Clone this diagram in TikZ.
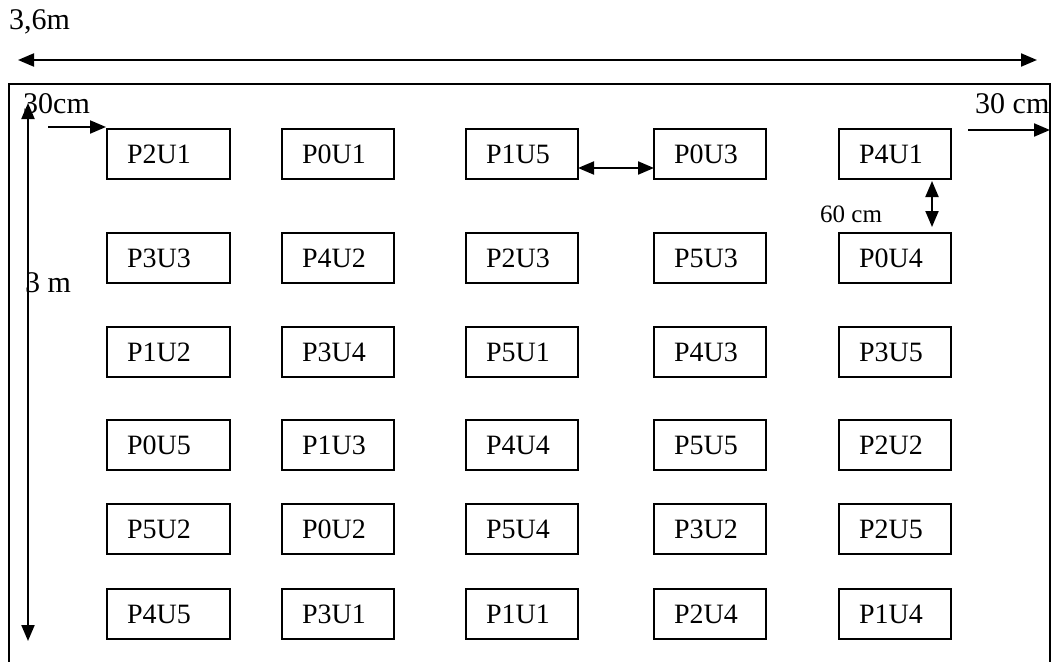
\documentclass[tikz,border=0pt]{standalone}
\usepackage{fontspec}
\setmainfont{Liberation Serif}
\usetikzlibrary{arrows.meta,calc}
\begin{document}
\begin{tikzpicture}[x=1pt,y=-1pt,
  plotbox/.style={draw, line width=2pt, rectangle, anchor=north west,
    minimum height=50pt, inner ysep=0pt, inner xsep=20pt, outer sep=0pt,
    text width=72pt, align=left, font=\fontsize{28}{30}\selectfont,
    text height=18pt, text depth=0pt},
  widebox/.style={text width=83pt},
  dimlabel/.style={inner sep=0pt, anchor=base west, font=\fontsize{30}{32}\selectfont},
  smalllabel/.style={inner sep=0pt, anchor=base west, font=\fontsize{25}{28}\selectfont},
  dimarrow/.style={line width=2pt, -{Triangle[length=16pt,width=13pt]}},
  dimboth/.style={line width=2pt, {Triangle[length=16pt,width=13pt]}-{Triangle[length=16pt,width=13pt]}},
  frameline/.style={line width=2pt}
]
\useasboundingbox (0,0) rectangle (1056,661);
\fill[white] (0,0) rectangle (1056,661);

% field frame (bottom edge lies below the picture)
\coordinate (FBL) at (9,675);
\coordinate (FTL) at (9,84);
\coordinate (FTR) at (1050,84);
\coordinate (FBR) at (1050,675);
\begin{scope}
\clip (0,0) rectangle (1056,661);
\draw[frameline] (FBL) -- (FTL) -- (FTR) -- (FBR);
\end{scope}

% plots
\foreach \r/\yy/\a/\b/\c/\d/\e in {
  1/129/P2U1/P0U1/P1U5/P0U3/P4U1,
  2/233/P3U3/P4U2/P2U3/P5U3/P0U4,
  3/327/P1U2/P3U4/P5U1/P4U3/P3U5,
  4/420/P0U5/P1U3/P4U4/P5U5/P2U2,
  5/504/P5U2/P0U2/P5U4/P3U2/P2U5,
  6/589/P4U5/P3U1/P1U1/P2U4/P1U4}{
  \node[plotbox, widebox] (\a) at (107,\yy) {\a};
  \node[plotbox] (\b) at (282,\yy) {\b};
  \node[plotbox] (\c) at (466,\yy) {\c};
  \node[plotbox] (\d) at (654,\yy) {\d};
  \node[plotbox] (\e) at (839,\yy) {\e};
}

% overall width 3,6 m
\coordinate (WL) at (18,60);
\coordinate (WR) at (1037,60);
\draw[dimboth] (WL) -- (WR);
\node[dimlabel] (w36) at (9,30) {3,6m};

% overall length 3 m
\coordinate (LT) at (28,103);
\coordinate (LB) at (28,641);
\draw[dimboth] (LT) -- (LB);
\node[dimlabel] (l3) at (25,292) {3 m};

% border 30 cm left
\node[dimlabel] (b30l) at (23,113) {30cm};
\coordinate (BL0) at (48,127);
\draw[dimarrow] (BL0) -- ($(P2U1.north west)+(-1,-2)$);

% border 30 cm right
\node[dimlabel] (b30r) at (975,113) {30 cm};
\coordinate (BR0) at (968,130);
\draw[dimarrow] (BR0) -- (FTR |- BR0);

% spacing between plots
\draw[dimboth] ($(P1U5.south east)+(0,-11)$) -- ($(P0U3.south west)+(0,-11)$);
\draw[dimboth] ($(P4U1.south east)+(-19,2)$) -- ($(P0U4.north east)+(-19,-6)$);
\node[smalllabel] (s60) at (820,222) {60 cm};
\end{tikzpicture}
\end{document}
